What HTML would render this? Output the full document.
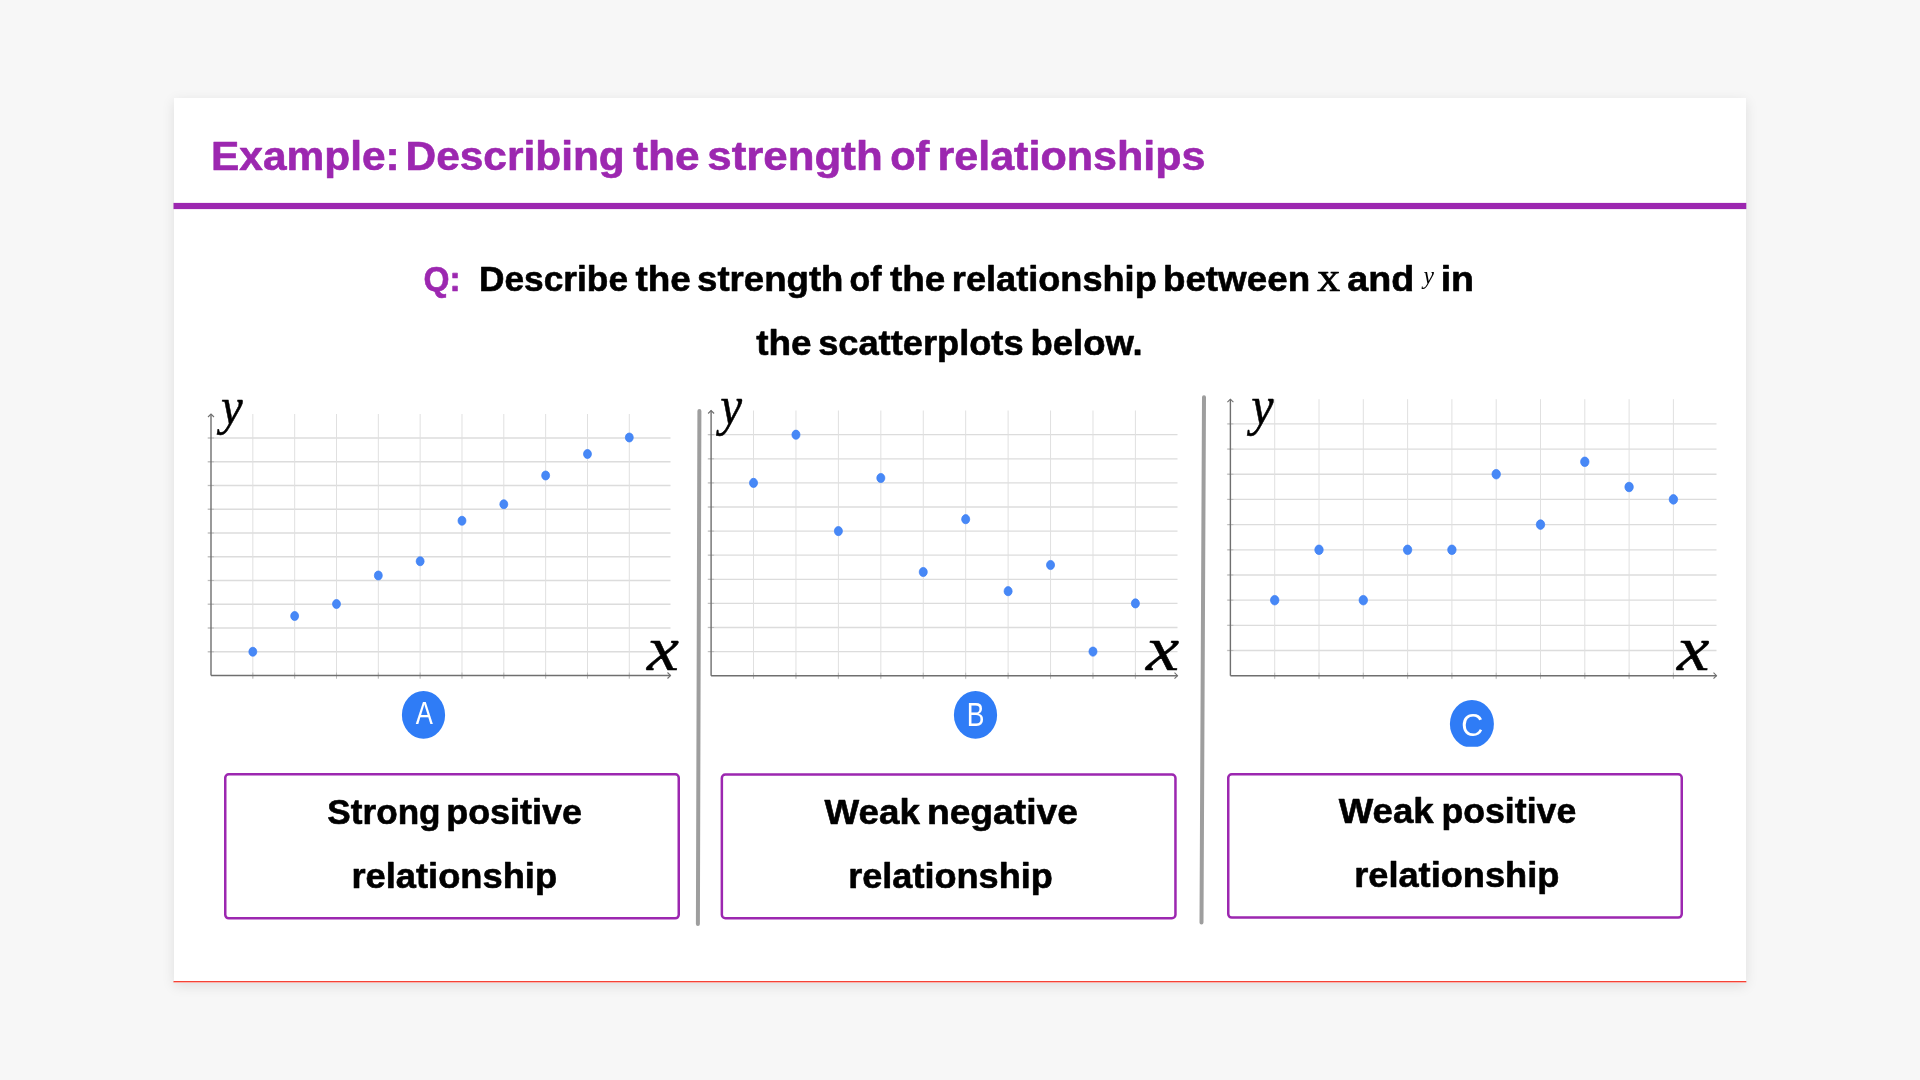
<!DOCTYPE html>
<html><head><meta charset="utf-8"><title>Example: Describing the strength of relationships</title>
<style>
html,body{margin:0;padding:0;width:1920px;height:1080px;overflow:hidden;background:#f7f7f7;}
.card{position:absolute;left:173.5px;top:97.5px;width:1572.8px;height:885px;background:#fff;box-shadow:0 3px 12px rgba(0,0,0,0.10);}
svg{position:absolute;left:0;top:0;will-change:transform;}
.gh{stroke:#dcdcdc;stroke-width:1.3;}
.gv{stroke:#e0e0e0;stroke-width:1;}
.ax{stroke:#6f6f6f;stroke-width:1.4;fill:none;}
.ar{stroke:#6f6f6f;stroke-width:1.1;fill:none;}
.dot{fill:#4788f6;stroke:#3a7cf5;stroke-width:0.7;}
.tk{stroke:#bdbdbd;stroke-width:1;}
.dv{stroke:#9e9e9e;stroke-width:4;stroke-linecap:round;}
.lb{fill:#2f7cf6;}
.bx{fill:none;stroke:#9c27b0;stroke-width:2.5;}
</style></head>
<body>
<div class="card"></div>
<svg width="1920" height="1080" viewBox="0 0 1920 1080">

<rect x="173.5" y="202.9" width="1572.8" height="6.2" fill="#9c27b0"/>
<rect x="173.5" y="981" width="1572.8" height="1.4" fill="#f44336"/>
<line x1="207.50" y1="651.75" x2="670.50" y2="651.75" class="gh"/>
<line x1="207.50" y1="628.00" x2="670.50" y2="628.00" class="gh"/>
<line x1="207.50" y1="604.25" x2="670.50" y2="604.25" class="gh"/>
<line x1="207.50" y1="580.50" x2="670.50" y2="580.50" class="gh"/>
<line x1="207.50" y1="556.75" x2="670.50" y2="556.75" class="gh"/>
<line x1="207.50" y1="533.00" x2="670.50" y2="533.00" class="gh"/>
<line x1="207.50" y1="509.25" x2="670.50" y2="509.25" class="gh"/>
<line x1="207.50" y1="485.50" x2="670.50" y2="485.50" class="gh"/>
<line x1="207.50" y1="461.75" x2="670.50" y2="461.75" class="gh"/>
<line x1="207.50" y1="438.00" x2="670.50" y2="438.00" class="gh"/>
<line x1="252.83" y1="414.00" x2="252.83" y2="679.00" class="gv"/>
<line x1="294.66" y1="414.00" x2="294.66" y2="679.00" class="gv"/>
<line x1="336.49" y1="414.00" x2="336.49" y2="679.00" class="gv"/>
<line x1="378.32" y1="414.00" x2="378.32" y2="679.00" class="gv"/>
<line x1="420.15" y1="414.00" x2="420.15" y2="679.00" class="gv"/>
<line x1="461.98" y1="414.00" x2="461.98" y2="679.00" class="gv"/>
<line x1="503.81" y1="414.00" x2="503.81" y2="679.00" class="gv"/>
<line x1="545.64" y1="414.00" x2="545.64" y2="679.00" class="gv"/>
<line x1="587.47" y1="414.00" x2="587.47" y2="679.00" class="gv"/>
<line x1="629.30" y1="414.00" x2="629.30" y2="679.00" class="gv"/>
<line x1="208.00" y1="651.75" x2="214.00" y2="651.75" class="tk"/>
<line x1="208.00" y1="628.00" x2="214.00" y2="628.00" class="tk"/>
<line x1="208.00" y1="604.25" x2="214.00" y2="604.25" class="tk"/>
<line x1="208.00" y1="580.50" x2="214.00" y2="580.50" class="tk"/>
<line x1="208.00" y1="556.75" x2="214.00" y2="556.75" class="tk"/>
<line x1="208.00" y1="533.00" x2="214.00" y2="533.00" class="tk"/>
<line x1="208.00" y1="509.25" x2="214.00" y2="509.25" class="tk"/>
<line x1="208.00" y1="485.50" x2="214.00" y2="485.50" class="tk"/>
<line x1="208.00" y1="461.75" x2="214.00" y2="461.75" class="tk"/>
<line x1="208.00" y1="438.00" x2="214.00" y2="438.00" class="tk"/>
<line x1="252.83" y1="672.50" x2="252.83" y2="678.50" class="tk"/>
<line x1="294.66" y1="672.50" x2="294.66" y2="678.50" class="tk"/>
<line x1="336.49" y1="672.50" x2="336.49" y2="678.50" class="tk"/>
<line x1="378.32" y1="672.50" x2="378.32" y2="678.50" class="tk"/>
<line x1="420.15" y1="672.50" x2="420.15" y2="678.50" class="tk"/>
<line x1="461.98" y1="672.50" x2="461.98" y2="678.50" class="tk"/>
<line x1="503.81" y1="672.50" x2="503.81" y2="678.50" class="tk"/>
<line x1="545.64" y1="672.50" x2="545.64" y2="678.50" class="tk"/>
<line x1="587.47" y1="672.50" x2="587.47" y2="678.50" class="tk"/>
<line x1="629.30" y1="672.50" x2="629.30" y2="678.50" class="tk"/>
<path d="M211.00 675.50 V414.00 M211.00 675.50 H670.50" class="ax"/>
<path d="M208.00 417.00 L211.00 414.00 L214.00 417.00 M667.50 672.50 L670.50 675.50 L667.50 678.50" class="ar"/>
<ellipse cx="252.83" cy="651.75" rx="3.97" ry="4.51" class="dot"/>
<ellipse cx="294.66" cy="616.00" rx="3.97" ry="4.51" class="dot"/>
<ellipse cx="336.49" cy="604.00" rx="3.97" ry="4.51" class="dot"/>
<ellipse cx="378.32" cy="575.50" rx="3.97" ry="4.51" class="dot"/>
<ellipse cx="420.15" cy="561.25" rx="3.97" ry="4.51" class="dot"/>
<ellipse cx="461.98" cy="520.75" rx="3.97" ry="4.51" class="dot"/>
<ellipse cx="503.81" cy="504.25" rx="3.97" ry="4.51" class="dot"/>
<ellipse cx="545.64" cy="475.50" rx="3.97" ry="4.51" class="dot"/>
<ellipse cx="587.47" cy="454.00" rx="3.97" ry="4.51" class="dot"/>
<ellipse cx="629.30" cy="437.50" rx="3.97" ry="4.51" class="dot"/>
<line x1="707.60" y1="651.60" x2="1177.50" y2="651.60" class="gh"/>
<line x1="707.60" y1="627.50" x2="1177.50" y2="627.50" class="gh"/>
<line x1="707.60" y1="603.40" x2="1177.50" y2="603.40" class="gh"/>
<line x1="707.60" y1="579.30" x2="1177.50" y2="579.30" class="gh"/>
<line x1="707.60" y1="555.20" x2="1177.50" y2="555.20" class="gh"/>
<line x1="707.60" y1="531.10" x2="1177.50" y2="531.10" class="gh"/>
<line x1="707.60" y1="507.00" x2="1177.50" y2="507.00" class="gh"/>
<line x1="707.60" y1="482.90" x2="1177.50" y2="482.90" class="gh"/>
<line x1="707.60" y1="458.80" x2="1177.50" y2="458.80" class="gh"/>
<line x1="707.60" y1="434.70" x2="1177.50" y2="434.70" class="gh"/>
<line x1="753.53" y1="410.50" x2="753.53" y2="679.20" class="gv"/>
<line x1="795.96" y1="410.50" x2="795.96" y2="679.20" class="gv"/>
<line x1="838.39" y1="410.50" x2="838.39" y2="679.20" class="gv"/>
<line x1="880.82" y1="410.50" x2="880.82" y2="679.20" class="gv"/>
<line x1="923.25" y1="410.50" x2="923.25" y2="679.20" class="gv"/>
<line x1="965.68" y1="410.50" x2="965.68" y2="679.20" class="gv"/>
<line x1="1008.11" y1="410.50" x2="1008.11" y2="679.20" class="gv"/>
<line x1="1050.54" y1="410.50" x2="1050.54" y2="679.20" class="gv"/>
<line x1="1092.97" y1="410.50" x2="1092.97" y2="679.20" class="gv"/>
<line x1="1135.40" y1="410.50" x2="1135.40" y2="679.20" class="gv"/>
<line x1="708.10" y1="651.60" x2="714.10" y2="651.60" class="tk"/>
<line x1="708.10" y1="627.50" x2="714.10" y2="627.50" class="tk"/>
<line x1="708.10" y1="603.40" x2="714.10" y2="603.40" class="tk"/>
<line x1="708.10" y1="579.30" x2="714.10" y2="579.30" class="tk"/>
<line x1="708.10" y1="555.20" x2="714.10" y2="555.20" class="tk"/>
<line x1="708.10" y1="531.10" x2="714.10" y2="531.10" class="tk"/>
<line x1="708.10" y1="507.00" x2="714.10" y2="507.00" class="tk"/>
<line x1="708.10" y1="482.90" x2="714.10" y2="482.90" class="tk"/>
<line x1="708.10" y1="458.80" x2="714.10" y2="458.80" class="tk"/>
<line x1="708.10" y1="434.70" x2="714.10" y2="434.70" class="tk"/>
<line x1="753.53" y1="672.70" x2="753.53" y2="678.70" class="tk"/>
<line x1="795.96" y1="672.70" x2="795.96" y2="678.70" class="tk"/>
<line x1="838.39" y1="672.70" x2="838.39" y2="678.70" class="tk"/>
<line x1="880.82" y1="672.70" x2="880.82" y2="678.70" class="tk"/>
<line x1="923.25" y1="672.70" x2="923.25" y2="678.70" class="tk"/>
<line x1="965.68" y1="672.70" x2="965.68" y2="678.70" class="tk"/>
<line x1="1008.11" y1="672.70" x2="1008.11" y2="678.70" class="tk"/>
<line x1="1050.54" y1="672.70" x2="1050.54" y2="678.70" class="tk"/>
<line x1="1092.97" y1="672.70" x2="1092.97" y2="678.70" class="tk"/>
<line x1="1135.40" y1="672.70" x2="1135.40" y2="678.70" class="tk"/>
<path d="M711.10 675.70 V410.50 M711.10 675.70 H1177.50" class="ax"/>
<path d="M708.10 413.50 L711.10 410.50 L714.10 413.50 M1174.50 672.70 L1177.50 675.70 L1174.50 678.70" class="ar"/>
<ellipse cx="753.53" cy="482.90" rx="4.03" ry="4.58" class="dot"/>
<ellipse cx="795.96" cy="434.70" rx="4.03" ry="4.58" class="dot"/>
<ellipse cx="838.39" cy="531.10" rx="4.03" ry="4.58" class="dot"/>
<ellipse cx="880.82" cy="478.00" rx="4.03" ry="4.58" class="dot"/>
<ellipse cx="923.25" cy="572.00" rx="4.03" ry="4.58" class="dot"/>
<ellipse cx="965.68" cy="519.20" rx="4.03" ry="4.58" class="dot"/>
<ellipse cx="1008.11" cy="591.20" rx="4.03" ry="4.58" class="dot"/>
<ellipse cx="1050.54" cy="565.00" rx="4.03" ry="4.58" class="dot"/>
<ellipse cx="1092.97" cy="651.60" rx="4.03" ry="4.58" class="dot"/>
<ellipse cx="1135.40" cy="603.40" rx="4.03" ry="4.58" class="dot"/>
<line x1="1226.90" y1="650.52" x2="1716.50" y2="650.52" class="gh"/>
<line x1="1226.90" y1="625.34" x2="1716.50" y2="625.34" class="gh"/>
<line x1="1226.90" y1="600.16" x2="1716.50" y2="600.16" class="gh"/>
<line x1="1226.90" y1="574.98" x2="1716.50" y2="574.98" class="gh"/>
<line x1="1226.90" y1="549.80" x2="1716.50" y2="549.80" class="gh"/>
<line x1="1226.90" y1="524.62" x2="1716.50" y2="524.62" class="gh"/>
<line x1="1226.90" y1="499.44" x2="1716.50" y2="499.44" class="gh"/>
<line x1="1226.90" y1="474.26" x2="1716.50" y2="474.26" class="gh"/>
<line x1="1226.90" y1="449.08" x2="1716.50" y2="449.08" class="gh"/>
<line x1="1226.90" y1="423.90" x2="1716.50" y2="423.90" class="gh"/>
<line x1="1274.70" y1="399.20" x2="1274.70" y2="679.20" class="gv"/>
<line x1="1319.00" y1="399.20" x2="1319.00" y2="679.20" class="gv"/>
<line x1="1363.30" y1="399.20" x2="1363.30" y2="679.20" class="gv"/>
<line x1="1407.60" y1="399.20" x2="1407.60" y2="679.20" class="gv"/>
<line x1="1451.90" y1="399.20" x2="1451.90" y2="679.20" class="gv"/>
<line x1="1496.20" y1="399.20" x2="1496.20" y2="679.20" class="gv"/>
<line x1="1540.50" y1="399.20" x2="1540.50" y2="679.20" class="gv"/>
<line x1="1584.80" y1="399.20" x2="1584.80" y2="679.20" class="gv"/>
<line x1="1629.10" y1="399.20" x2="1629.10" y2="679.20" class="gv"/>
<line x1="1673.40" y1="399.20" x2="1673.40" y2="679.20" class="gv"/>
<line x1="1227.40" y1="650.52" x2="1233.40" y2="650.52" class="tk"/>
<line x1="1227.40" y1="625.34" x2="1233.40" y2="625.34" class="tk"/>
<line x1="1227.40" y1="600.16" x2="1233.40" y2="600.16" class="tk"/>
<line x1="1227.40" y1="574.98" x2="1233.40" y2="574.98" class="tk"/>
<line x1="1227.40" y1="549.80" x2="1233.40" y2="549.80" class="tk"/>
<line x1="1227.40" y1="524.62" x2="1233.40" y2="524.62" class="tk"/>
<line x1="1227.40" y1="499.44" x2="1233.40" y2="499.44" class="tk"/>
<line x1="1227.40" y1="474.26" x2="1233.40" y2="474.26" class="tk"/>
<line x1="1227.40" y1="449.08" x2="1233.40" y2="449.08" class="tk"/>
<line x1="1227.40" y1="423.90" x2="1233.40" y2="423.90" class="tk"/>
<line x1="1274.70" y1="672.70" x2="1274.70" y2="678.70" class="tk"/>
<line x1="1319.00" y1="672.70" x2="1319.00" y2="678.70" class="tk"/>
<line x1="1363.30" y1="672.70" x2="1363.30" y2="678.70" class="tk"/>
<line x1="1407.60" y1="672.70" x2="1407.60" y2="678.70" class="tk"/>
<line x1="1451.90" y1="672.70" x2="1451.90" y2="678.70" class="tk"/>
<line x1="1496.20" y1="672.70" x2="1496.20" y2="678.70" class="tk"/>
<line x1="1540.50" y1="672.70" x2="1540.50" y2="678.70" class="tk"/>
<line x1="1584.80" y1="672.70" x2="1584.80" y2="678.70" class="tk"/>
<line x1="1629.10" y1="672.70" x2="1629.10" y2="678.70" class="tk"/>
<line x1="1673.40" y1="672.70" x2="1673.40" y2="678.70" class="tk"/>
<path d="M1230.40 675.70 V399.20 M1230.40 675.70 H1716.50" class="ax"/>
<path d="M1227.40 402.20 L1230.40 399.20 L1233.40 402.20 M1713.50 672.70 L1716.50 675.70 L1713.50 678.70" class="ar"/>
<ellipse cx="1274.70" cy="600.20" rx="4.21" ry="4.78" class="dot"/>
<ellipse cx="1319.00" cy="549.80" rx="4.21" ry="4.78" class="dot"/>
<ellipse cx="1363.30" cy="600.20" rx="4.21" ry="4.78" class="dot"/>
<ellipse cx="1407.60" cy="549.80" rx="4.21" ry="4.78" class="dot"/>
<ellipse cx="1451.90" cy="549.80" rx="4.21" ry="4.78" class="dot"/>
<ellipse cx="1496.20" cy="474.20" rx="4.21" ry="4.78" class="dot"/>
<ellipse cx="1540.50" cy="524.60" rx="4.21" ry="4.78" class="dot"/>
<ellipse cx="1584.80" cy="461.80" rx="4.21" ry="4.78" class="dot"/>
<ellipse cx="1629.10" cy="487.00" rx="4.21" ry="4.78" class="dot"/>
<ellipse cx="1673.40" cy="499.40" rx="4.21" ry="4.78" class="dot"/>
<line x1="699.4" y1="411" x2="697.9" y2="924.1" class="dv"/>
<line x1="1204" y1="397.2" x2="1201.5" y2="922.6" class="dv"/>
<ellipse cx="423.5" cy="714.9" rx="21.6" ry="23.9" class="lb"/>
<ellipse cx="975.5" cy="714.9" rx="21.6" ry="23.9" class="lb"/>
<clipPath id="cc"><rect x="1440" y="690" width="70" height="56.8"/></clipPath>
<ellipse cx="1471.9" cy="723.9" rx="22" ry="23.9" class="lb" clip-path="url(#cc)"/>
<rect x="225.25" y="774.25" width="453.50" height="144.10" rx="3.5" class="bx"/>
<rect x="721.85" y="774.55" width="453.60" height="143.70" rx="3.5" class="bx"/>
<rect x="1228.25" y="774.25" width="453.50" height="143.30" rx="3.5" class="bx"/>

<text stroke="#9c27b0" stroke-width="0.6" stroke-linejoin="round" transform="translate(210.94,169.70) scale(1.0616,1)" font-family="'Liberation Sans', Arial, sans-serif" font-weight="bold" font-style="normal" font-size="40.00" fill="#9c27b0">Example:</text>
<text stroke="#9c27b0" stroke-width="0.6" stroke-linejoin="round" transform="translate(405.54,169.70) scale(1.0606,1)" font-family="'Liberation Sans', Arial, sans-serif" font-weight="bold" font-style="normal" font-size="40.00" fill="#9c27b0">Describing</text>
<text stroke="#9c27b0" stroke-width="0.6" stroke-linejoin="round" transform="translate(633.36,169.70) scale(1.1053,1)" font-family="'Liberation Sans', Arial, sans-serif" font-weight="bold" font-style="normal" font-size="40.00" fill="#9c27b0">the</text>
<text stroke="#9c27b0" stroke-width="0.6" stroke-linejoin="round" transform="translate(707.27,169.70) scale(1.0963,1)" font-family="'Liberation Sans', Arial, sans-serif" font-weight="bold" font-style="normal" font-size="40.00" fill="#9c27b0">strength</text>
<text stroke="#9c27b0" stroke-width="0.6" stroke-linejoin="round" transform="translate(890.25,169.70) scale(1.0375,1)" font-family="'Liberation Sans', Arial, sans-serif" font-weight="bold" font-style="normal" font-size="40.00" fill="#9c27b0">of</text>
<text stroke="#9c27b0" stroke-width="0.6" stroke-linejoin="round" transform="translate(937.50,169.70) scale(1.0764,1)" font-family="'Liberation Sans', Arial, sans-serif" font-weight="bold" font-style="normal" font-size="40.00" fill="#9c27b0">relationships</text>
<text stroke="#9c27b0" stroke-width="0.6" stroke-linejoin="round" transform="translate(423.46,291.00) scale(0.9555,1)" font-family="'Liberation Sans', Arial, sans-serif" font-weight="bold" font-style="normal" font-size="35.00" fill="#9c27b0">Q:</text>
<text stroke="#000" stroke-width="0.6" stroke-linejoin="round" transform="translate(479.01,291.00) scale(1.0083,1)" font-family="'Liberation Sans', Arial, sans-serif" font-weight="bold" font-style="normal" font-size="35.00" fill="#000">Describe</text>
<text stroke="#000" stroke-width="0.6" stroke-linejoin="round" transform="translate(635.43,291.00) scale(1.0556,1)" font-family="'Liberation Sans', Arial, sans-serif" font-weight="bold" font-style="normal" font-size="35.00" fill="#000">the</text>
<text stroke="#000" stroke-width="0.6" stroke-linejoin="round" transform="translate(697.02,291.00) scale(1.0465,1)" font-family="'Liberation Sans', Arial, sans-serif" font-weight="bold" font-style="normal" font-size="35.00" fill="#000">strength</text>
<text stroke="#000" stroke-width="0.6" stroke-linejoin="round" transform="translate(849.61,291.00) scale(0.9693,1)" font-family="'Liberation Sans', Arial, sans-serif" font-weight="bold" font-style="normal" font-size="35.00" fill="#000">of</text>
<text stroke="#000" stroke-width="0.6" stroke-linejoin="round" transform="translate(889.93,291.00) scale(1.0556,1)" font-family="'Liberation Sans', Arial, sans-serif" font-weight="bold" font-style="normal" font-size="35.00" fill="#000">the</text>
<text stroke="#000" stroke-width="0.6" stroke-linejoin="round" transform="translate(951.85,291.00) scale(1.0331,1)" font-family="'Liberation Sans', Arial, sans-serif" font-weight="bold" font-style="normal" font-size="35.00" fill="#000">relationship</text>
<text stroke="#000" stroke-width="0.6" stroke-linejoin="round" transform="translate(1162.91,291.00) scale(1.0514,1)" font-family="'Liberation Sans', Arial, sans-serif" font-weight="bold" font-style="normal" font-size="35.00" fill="#000">between</text>
<text stroke="#000" stroke-width="0.6" stroke-linejoin="round" transform="translate(1347.36,291.00) scale(1.0771,1)" font-family="'Liberation Sans', Arial, sans-serif" font-weight="bold" font-style="normal" font-size="35.00" fill="#000">and</text>
<text stroke="#000" stroke-width="0.6" stroke-linejoin="round" transform="translate(1440.65,291.00) scale(1.0749,1)" font-family="'Liberation Sans', Arial, sans-serif" font-weight="bold" font-style="normal" font-size="35.00" fill="#000">in</text>
<text stroke="#000" stroke-width="0.7" stroke-linejoin="round" transform="translate(1317.37,290.90) scale(1.1698,1)" font-family="'Liberation Serif', 'Times New Roman', serif" font-weight="normal" font-style="normal" font-size="39.13" fill="#000">x</text>
<text transform="translate(1423.50,284.08) scale(0.9533,1)" font-family="'Liberation Serif', 'Times New Roman', serif" font-weight="normal" font-style="italic" font-size="24.74" fill="#000">y</text>
<text stroke="#000" stroke-width="0.6" stroke-linejoin="round" transform="translate(756.23,354.90) scale(1.0556,1)" font-family="'Liberation Sans', Arial, sans-serif" font-weight="bold" font-style="normal" font-size="35.00" fill="#000">the</text>
<text stroke="#000" stroke-width="0.6" stroke-linejoin="round" transform="translate(818.13,354.90) scale(1.0357,1)" font-family="'Liberation Sans', Arial, sans-serif" font-weight="bold" font-style="normal" font-size="35.00" fill="#000">scatterplots</text>
<text stroke="#000" stroke-width="0.6" stroke-linejoin="round" transform="translate(1030.42,354.90) scale(1.0442,1)" font-family="'Liberation Sans', Arial, sans-serif" font-weight="bold" font-style="normal" font-size="35.00" fill="#000">below.</text>
<text stroke="#000" stroke-width="0.6" stroke-linejoin="round" transform="translate(327.32,824.10) scale(1.0048,1)" font-family="'Liberation Sans', Arial, sans-serif" font-weight="bold" font-style="normal" font-size="35.00" fill="#000">Strong</text>
<text stroke="#000" stroke-width="0.6" stroke-linejoin="round" transform="translate(446.16,824.10) scale(1.0280,1)" font-family="'Liberation Sans', Arial, sans-serif" font-weight="bold" font-style="normal" font-size="35.00" fill="#000">positive</text>
<text stroke="#000" stroke-width="0.6" stroke-linejoin="round" transform="translate(351.44,887.80) scale(1.0372,1)" font-family="'Liberation Sans', Arial, sans-serif" font-weight="bold" font-style="normal" font-size="35.00" fill="#000">relationship</text>
<text stroke="#000" stroke-width="0.6" stroke-linejoin="round" transform="translate(824.60,824.10) scale(1.0502,1)" font-family="'Liberation Sans', Arial, sans-serif" font-weight="bold" font-style="normal" font-size="35.00" fill="#000">Weak</text>
<text stroke="#000" stroke-width="0.6" stroke-linejoin="round" transform="translate(926.88,824.10) scale(1.0647,1)" font-family="'Liberation Sans', Arial, sans-serif" font-weight="bold" font-style="normal" font-size="35.00" fill="#000">negative</text>
<text stroke="#000" stroke-width="0.6" stroke-linejoin="round" transform="translate(848.15,887.80) scale(1.0321,1)" font-family="'Liberation Sans', Arial, sans-serif" font-weight="bold" font-style="normal" font-size="35.00" fill="#000">relationship</text>
<text stroke="#000" stroke-width="0.6" stroke-linejoin="round" transform="translate(1338.70,823.20) scale(1.0458,1)" font-family="'Liberation Sans', Arial, sans-serif" font-weight="bold" font-style="normal" font-size="35.00" fill="#000">Weak</text>
<text stroke="#000" stroke-width="0.6" stroke-linejoin="round" transform="translate(1441.38,823.20) scale(1.0202,1)" font-family="'Liberation Sans', Arial, sans-serif" font-weight="bold" font-style="normal" font-size="35.00" fill="#000">positive</text>
<text stroke="#000" stroke-width="0.6" stroke-linejoin="round" transform="translate(1354.15,886.80) scale(1.0352,1)" font-family="'Liberation Sans', Arial, sans-serif" font-weight="bold" font-style="normal" font-size="35.00" fill="#000">relationship</text>
<text stroke="#000" stroke-width="0.5" stroke-linejoin="round" transform="translate(220.95,424.20) scale(0.9137,1)" font-family="'Liberation Serif', 'Times New Roman', serif" font-weight="normal" font-style="italic" font-size="53.48" fill="#000">y</text>
<text stroke="#000" stroke-width="0.5" stroke-linejoin="round" transform="translate(647.08,670.00) scale(1.1417,1)" font-family="'Liberation Serif', 'Times New Roman', serif" font-weight="normal" font-style="italic" font-size="63.04" fill="#000">x</text>
<text stroke="#000" stroke-width="0.5" stroke-linejoin="round" transform="translate(720.17,424.37) scale(0.9072,1)" font-family="'Liberation Serif', 'Times New Roman', serif" font-weight="normal" font-style="italic" font-size="54.07" fill="#000">y</text>
<text stroke="#000" stroke-width="0.5" stroke-linejoin="round" transform="translate(1146.12,670.00) scale(1.1652,1)" font-family="'Liberation Serif', 'Times New Roman', serif" font-weight="normal" font-style="italic" font-size="64.13" fill="#000">x</text>
<text stroke="#000" stroke-width="0.5" stroke-linejoin="round" transform="translate(1251.27,424.37) scale(0.9281,1)" font-family="'Liberation Serif', 'Times New Roman', serif" font-weight="normal" font-style="italic" font-size="54.07" fill="#000">y</text>
<text stroke="#000" stroke-width="0.5" stroke-linejoin="round" transform="translate(1676.89,670.00) scale(1.1378,1)" font-family="'Liberation Serif', 'Times New Roman', serif" font-weight="normal" font-style="italic" font-size="64.13" fill="#000">x</text>
<text transform="translate(415.70,724.34) scale(0.8147,1)" font-family="'Liberation Sans', Arial, sans-serif" font-weight="normal" font-style="normal" font-size="31.51" fill="#fff">A</text>
<text transform="translate(966.78,726.40) scale(0.8213,1)" font-family="'Liberation Sans', Arial, sans-serif" font-weight="normal" font-style="normal" font-size="32.32" fill="#fff">B</text>
<text transform="translate(1461.17,735.58) scale(0.9514,1)" font-family="'Liberation Sans', Arial, sans-serif" font-weight="normal" font-style="normal" font-size="32.11" fill="#fff">C</text>
</svg>
</body></html>
